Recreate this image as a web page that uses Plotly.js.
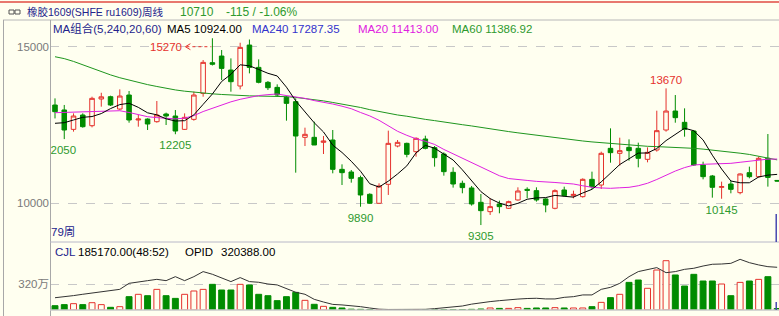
<!DOCTYPE html>
<html><head><meta charset="utf-8">
<script src="https://cdn.plot.ly/plotly-3.0.1.min.js"></script>
<style>html,body{margin:0;padding:0;background:#FFFFF0;}#chart{width:779px;height:316px;}</style>
</head><body><div id="chart"></div>
<script>
// ---- data (weekly, 79 weeks) ----
const openP  = [13138,12980,12361,12819,12478,13330,13404,13010,13457,12660,12690,12606,12851,12787,12361,12680,13510,14490,14702,14255,13745,15053,14340,13862,13702,13383,13245,12106,12106,11947,12021,11084,10999,10819,10287,10000,10606,11829,11914,11648,12053,11776,11574,10989,10638,10489,10031,9733,9978,9840,10106,10446,10404,10138,9840,10425,10244,10212,10765,10584,11755,11595,11787,11755,11404,11702,12340,12946,12585,12308,11223,10872,10510,10616,10340,10978,10850,11436,10730];
const highP  = [13350,13140,12872,12872,13404,13530,13436,13638,13585,12819,12713,13266,12894,12978,12872,13564,14575,15270,14894,14627,15127,15230,14596,13904,13798,13436,13351,12415,12606,12149,12340,11244,11063,10882,10319,10638,12319,12021,11936,12106,12159,11829,11627,11148,10723,10553,10297,10159,10085,10085,10510,10510,10510,10159,10446,10531,10404,10797,11010,11648,12393,12095,12042,11936,11787,12957,13670,13457,13032,12340,11329,10904,10691,10723,10957,11170,11489,12212,10740];
const lowP   = [12710,12050,12287,12414,12425,13085,13106,12978,12574,12446,12340,12574,12500,12205,12340,12638,13404,14400,13936,13564,13638,14149,13830,13617,13404,12638,10978,11829,11861,11574,10957,10584,10659,9890,9978,9990,10266,11787,11468,11489,11723,11170,10882,10500,10319,9925,9305,9627,9680,9818,10085,10159,10053,9712,9808,10212,10159,10180,10457,10457,11297,11202,11361,11148,11308,11649,12287,12574,12127,11191,10765,10180,10145,10319,10287,10797,10819,10532,10700];
const closeP = [12925,12340,12787,12446,13351,13400,13138,13425,12660,12690,12532,12819,12787,12308,12745,13457,14500,14440,14308,13883,14979,14340,13862,13691,13457,13191,12148,12202,11861,11989,11084,10978,10797,10265,10000,10553,11914,11946,11563,12074,11755,11457,11010,10616,10500,9978,9765,9893,9893,10053,10393,10414,10106,9946,10404,10244,10287,10765,10531,11595,11617,11681,11681,11436,11627,12319,12946,12734,12361,11223,10850,10510,10531,10446,10936,10850,11436,10825,10710];
const ma5  = [12554,12574,12660,12746,12770,12865,13024,13152,13195,13063,12889,12825,12698,12627,12638,12823,13159,13490,13890,14118,14422,14390,14274,14151,14066,13708,13270,12938,12572,12278,11857,11623,11342,11023,10625,10519,10706,10936,11195,11610,11850,11759,11572,11382,11068,10712,10374,10150,10006,9916,9999,10129,10172,10182,10253,10223,10197,10329,10446,10684,10959,11238,11421,11602,11608,11749,12002,12212,12397,12317,12023,11536,11095,10712,10655,10655,10840,10899,10924];
const ma20 = [12893,12905,12915,12925,12935,12945,12956,12956,12900,12840,12765,12735,12714,12695,12720,12800,12930,13040,13150,13240,13320,13390,13440,13470,13490,13440,13400,13350,13280,13230,13170,13100,13020,12900,12790,12650,12480,12300,12170,12060,11980,11880,11720,11580,11430,11280,11140,11010,10880,10790,10750,10730,10700,10690,10665,10640,10616,10560,10510,10490,10478,10495,10510,10560,10640,10760,10900,11030,11140,11220,11245,11255,11265,11276,11310,11340,11390,11410,11413];
const ma60 = [14680,14620,14530,14420,14310,14200,14100,14010,13930,13860,13790,13730,13670,13620,13580,13545,13520,13495,13475,13455,13440,13430,13425,13420,13410,13405,13380,13350,13310,13270,13220,13170,13110,13060,12990,12930,12870,12820,12780,12720,12680,12640,12590,12550,12510,12470,12420,12370,12330,12290,12250,12210,12180,12150,12100,12060,12020,11990,11960,11935,11910,11895,11880,11840,11820,11810,11800,11785,11775,11755,11730,11700,11680,11650,11600,11560,11500,11440,11387];
// volume in 万 (10k lots)
const volume = [53,66,78,66,90,66,33,41,164,193,176,254,176,143,193,234,254,316,246,246,316,308,193,176,115,164,217,119,70,45,33,25,10,8,6,4,3,2,2,2,2,3,4,5,6,8,12,25,20,20,29,20,25,25,29,25,25,25,41,94,152,193,340,369,267,492,607,431,295,439,357,357,320,176,340,357,377,410,18.517];
// open interest in thousands of lots
const opid = [92,98,108,118,128,136,145,155,200,208,220,230,220,250,220,250,288,268,243,213,243,213,208,195,188,163,133,118,80,60,42,38,34,25,15,6,4,4,4,4,5,10,15,20,30,44,55,63,70,78,82,86,88,83,83,95,100,113,113,155,170,200,250,288,305,318,280,288,305,313,330,343,345,350,380,355,338,325,320.388];
const lowMarks  = {idx:[13,33,46,72], val:[12205,9890,9305,10145]};
const edgeMark  = {idx:0.55, val:12050};   // low of week 1, label drawn partly cut by the left edge
const highMarks = {idx:[66], val:[13670]};
const peakMark  = {idx:17, val:15270};
const yTicks = [10000,15000];
const volTick = 320;

const weeks = openP.map((_, i) => i);

// ---- layout helpers ----
const W = 779, H = 316, ML = 50, MT = 20, MB = 6;
const px = x => (x - ML) / (W - ML);
const py = y => (H - MB - y) / (H - MT - MB);
const splitY = py(242);

const BG = '#FFFFF0', RED = '#E5322D', GRN = '#008C00', TGRN = '#2E9A2E', NAVY = '#23238C';
const FONT = 'Liberation Sans, Noto Sans CJK SC, sans-serif';
const CLEAR = 'rgba(0,0,0,0)';

function txt(text, x, y, color, opt) {
  opt = opt || {};
  return Object.assign({text: text, xref: 'paper', yref: 'paper', x: px(x), y: py(y),
    xanchor: 'left', yanchor: 'middle', showarrow: false, borderpad: 0, borderwidth: 0,
    font: {family: FONT, size: opt.size || 11.5, color: color}}, opt.extra || {});
}
function hline(x0, x1, y, color, w, dash) {
  return {type: 'line', xref: 'paper', yref: 'paper', x0: px(x0), x1: px(x1), y0: py(y), y1: py(y),
    line: {color: color, width: w || 1, dash: dash || 'solid'}};
}
function vline(x, y0, y1, color, w) {
  return {type: 'line', xref: 'paper', yref: 'paper', x0: px(x), x1: px(x), y0: py(y0), y1: py(y1),
    line: {color: color, width: w || 1}};
}
function labelTrace(xs, ys, pos, color, msize) {
  return {type: 'scatter', mode: 'markers+text', x: xs, y: ys, text: ys.map(String),
    marker: {size: msize, color: CLEAR}, textposition: pos,
    textfont: {family: FONT, size: 11.5, color: color}, cliponaxis: true, hoverinfo: 'skip', yaxis: 'y'};
}

const traces = [
  {type: 'candlestick', x: weeks, open: openP, high: highP, low: lowP, close: closeP,
   increasing: {line: {color: RED, width: 1}, fillcolor: BG},
   decreasing: {line: {color: GRN, width: 1}, fillcolor: GRN},
   whiskerwidth: 0, hoverinfo: 'skip', xaxis: 'x', yaxis: 'y', showlegend: false},
  {type: 'scatter', mode: 'lines', x: weeks, y: ma60, line: {color: '#1E961E', width: 1}, hoverinfo: 'skip', yaxis: 'y'},
  {type: 'scatter', mode: 'lines', x: weeks, y: ma20, line: {color: '#E020E0', width: 1}, hoverinfo: 'skip', yaxis: 'y'},
  {type: 'scatter', mode: 'lines', x: weeks, y: ma5, line: {color: '#000000', width: 1}, hoverinfo: 'skip', yaxis: 'y'},
  labelTrace(lowMarks.idx, lowMarks.val, 'bottom center', TGRN, 9),
  labelTrace([edgeMark.idx], [edgeMark.val], 'bottom center', TGRN, 9),
  labelTrace(highMarks.idx, highMarks.val, 'top center', RED, 1),
  {type: 'bar', x: weeks, y: volume, width: 0.64, yaxis: 'y2', hoverinfo: 'skip',
   marker: {color: closeP.map((c, i) => c >= openP[i] ? BG : GRN),
            line: {color: closeP.map((c, i) => c >= openP[i] ? RED : GRN), width: 1}}},
  {type: 'scatter', mode: 'lines', x: weeks, y: opid, line: {color: '#333333', width: 1}, hoverinfo: 'skip', yaxis: 'y3'}
];

const annotations = [
  txt('橡胶1609(SHFE ru1609)周线', 27, 12, NAVY, {size: 10.5}),
  txt('10710', 180, 12, TGRN, {size: 12}),
  txt('-115 / -1.06%', 226, 12, TGRN, {size: 12}),
  txt('MA组合(5,240,20,60)', 53, 29, NAVY),
  txt('MA5 10924.00', 167, 29, '#000000'),
  txt('MA240 17287.35', 252, 29, '#3333CC'),
  txt('MA20 11413.00', 358, 29, '#E020E0'),
  txt('MA60 11386.92', 452, 29, TGRN),
  txt('79周', 51, 232, NAVY),
  txt('CJL', 55, 252, NAVY),
  txt('185170.00(48:52)', 78, 252, '#000000'),
  txt('OPID', 185, 252, '#000000'),
  txt('320388.00', 221, 252, '#000000'),
  {text: String(peakMark.val), xref: 'x', yref: 'y', x: peakMark.idx, y: 15000, xanchor: 'right', yanchor: 'middle',
   xshift: -29, showarrow: false, borderpad: 0, font: {family: FONT, size: 11.5, color: RED}}
];

const shapes = [
  hline(0, 779, 2, '#E8786E', 2),
  hline(3, 779, 20, '#B8B8B8', 1),
  vline(3.5, 20, 316, '#A8A8A8', 1),
  vline(50.5, 20, 316, '#A8A8A8', 1),
  hline(50, 779, 242, '#B8B8C8', 1),
  hline(50, 779, 310, '#C8C8C8', 1.5),
  // link icon in header
  {type: 'rect', xref: 'paper', yref: 'paper', x0: px(9), x1: px(14), y0: py(10), y1: py(14), line: {color: '#555', width: 1}},
  {type: 'rect', xref: 'paper', yref: 'paper', x0: px(15), x1: px(20), y0: py(10), y1: py(14), line: {color: '#555', width: 1}},
  // dashed arrow toward 15270 label
  {type: 'line', xref: 'x', yref: 'y', xsizemode: 'pixel', xanchor: peakMark.idx, x0: -26, x1: -1, y0: 15000, y1: 15000,
   line: {color: RED, width: 1, dash: 'dot'}},
  {type: 'path', xref: 'x', yref: 'y', xsizemode: 'pixel', ysizemode: 'pixel', xanchor: peakMark.idx, yanchor: 15000,
   path: 'M-22,3 L-27,0 L-22,-3', line: {color: RED, width: 1}},
  // cursor line
  {type: 'line', xref: 'x', yref: 'paper', x0: 77.9, x1: 77.9, y0: py(214), y1: py(242), line: {color: '#4848B0', width: 1.5}},
  {type: 'line', xref: 'x', yref: 'paper', x0: 77.9, x1: 77.9, y0: py(302), y1: py(310), line: {color: '#4848B0', width: 1.5}}
];

const layout = {
  width: W, height: H, margin: {l: ML, r: 0, t: MT, b: MB, pad: 0},
  paper_bgcolor: BG, plot_bgcolor: BG, showlegend: false, dragmode: false,
  xaxis: {range: [-0.54, 78.2], showticklabels: false, showgrid: false, zeroline: false, showline: false,
          ticks: '', rangeslider: {visible: false}, anchor: 'y2', fixedrange: true},
  yaxis: {domain: [splitY, 1], range: [8764, 15853], tickvals: yTicks, ticktext: yTicks.map(String),
          showgrid: true, gridcolor: '#C8C8C8', griddash: 'dash', gridwidth: 1, zeroline: false, showline: false,
          ticks: '', tickfont: {family: FONT, size: 11.5, color: '#7A7A7A'}, fixedrange: true},
  yaxis2: {domain: [0, splitY], range: [0, 837], tickvals: [volTick], ticktext: [volTick + '万'],
           showgrid: true, gridcolor: '#C8C8C8', griddash: 'dash', gridwidth: 1, zeroline: false, showline: false,
           ticks: '', tickfont: {family: FONT, size: 11.5, color: '#7A7A7A'}, fixedrange: true},
  yaxis3: {domain: [0, splitY], overlaying: 'y2', range: [0, 510], visible: false, fixedrange: true},
  annotations: annotations, shapes: shapes
};

Plotly.newPlot('chart', traces, layout, {displayModeBar: false, staticPlot: true});
</script></body></html>
